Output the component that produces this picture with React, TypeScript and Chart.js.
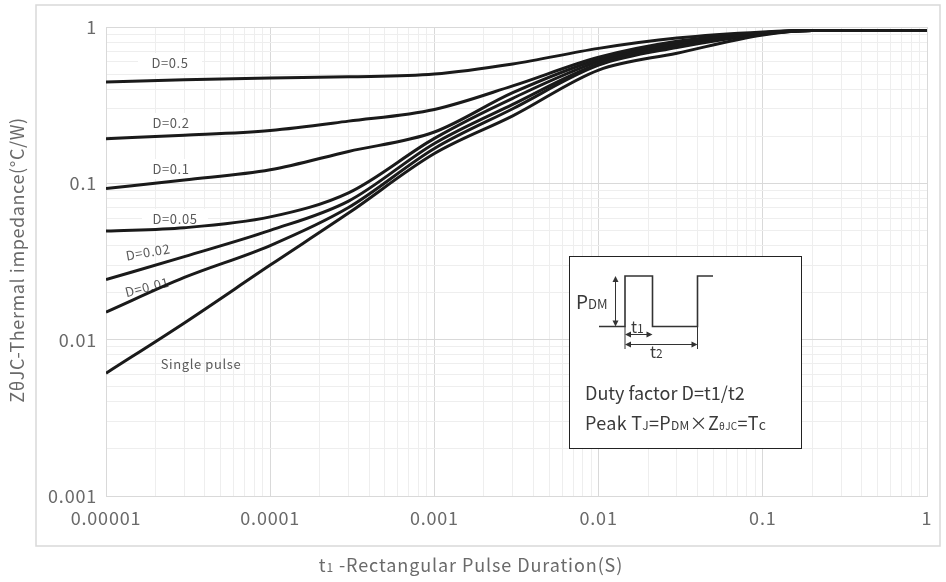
import React, { useEffect, useRef } from "react";
import { Chart, registerables } from "chart.js";

Chart.register(...registerables);

// ---- data ----
const pulseDuration = [1e-5, 3e-5, 1e-4, 3e-4, 1e-3, 3e-3, 1e-2, 3e-2, 0.1, 0.2, 1];
const zD05 = [0.445, 0.46, 0.472, 0.48, 0.5, 0.58, 0.73, 0.85, 0.93, 0.95, 0.95];
const zD02 = [0.193, 0.203, 0.218, 0.25, 0.297, 0.42, 0.64, 0.81, 0.92, 0.95, 0.95];
const zD01 = [0.0925, 0.105, 0.122, 0.16, 0.213, 0.38, 0.62, 0.79, 0.92, 0.95, 0.95];
const zD005 = [0.0495, 0.052, 0.061, 0.087, 0.194, 0.35, 0.6, 0.77, 0.91, 0.95, 0.95];
const zD002 = [0.0242, 0.034, 0.05, 0.077, 0.18, 0.32, 0.58, 0.75, 0.91, 0.95, 0.95];
const zD001 = [0.015, 0.025, 0.04, 0.07, 0.167, 0.3, 0.57, 0.74, 0.9, 0.95, 0.95];
const zSingle = [0.0061, 0.0128, 0.03, 0.0645, 0.155, 0.27, 0.53, 0.68, 0.89, 0.95, 0.95];

const seriesNames = ["D=0.5", "D=0.2", "D=0.1", "D=0.05", "D=0.02", "D=0.01", "Single pulse"];
const seriesValues = [zD05, zD02, zD01, zD005, zD002, zD001, zSingle];

const xMajorTicks = [1e-5, 1e-4, 1e-3, 1e-2, 1e-1, 1];
const xTickLabels = ["0.00001", "0.0001", "0.001", "0.01", "0.1", "1"];
const yMajorTicks = [1e-3, 1e-2, 1e-1, 1];
const yTickLabels = ["0.001", "0.01", "0.1", "1"];

const FONT = "'Noto Sans CJK SC', 'Noto Sans', sans-serif";
const GRAY = "#6a6a6a";

function gridValues(majors: number[]) {
  const out: number[] = [];
  for (let i = 0; i < majors.length; i++) {
    out.push(majors[i]);
    if (i < majors.length - 1) {
      for (let k = 2; k <= 9; k++) out.push(+(majors[i] * k).toPrecision(3));
    }
  }
  return out;
}

function isMajor(v: number, majors: number[]) {
  return majors.some((m) => Math.abs(v - m) / m < 1e-6);
}

function drawRuns(ctx: CanvasRenderingContext2D, x: number, y: number, runs: [string, number][], color: string, align: "left" | "center" = "left", spacing = 0) {
  ctx.save();
  (ctx as any).letterSpacing = spacing + "px";
  ctx.fillStyle = color;
  ctx.textBaseline = "alphabetic";
  ctx.textAlign = "left";
  let total = 0;
  for (const [t, s] of runs) {
    ctx.font = `${s}px ${FONT}`;
    total += ctx.measureText(t).width;
  }
  let cx = align === "center" ? x - total / 2 : x;
  for (const [t, s] of runs) {
    ctx.font = `${s}px ${FONT}`;
    ctx.fillText(t, cx, y);
    cx += ctx.measureText(t).width;
  }
  ctx.restore();
}

function arrowHead(ctx: CanvasRenderingContext2D, x: number, y: number, dir: "up" | "down" | "left" | "right") {
  const L = 6, W = 3;
  ctx.beginPath();
  if (dir === "up") { ctx.moveTo(x, y); ctx.lineTo(x - W, y + L); ctx.lineTo(x + W, y + L); }
  if (dir === "down") { ctx.moveTo(x, y); ctx.lineTo(x - W, y - L); ctx.lineTo(x + W, y - L); }
  if (dir === "left") { ctx.moveTo(x, y); ctx.lineTo(x + L, y - W); ctx.lineTo(x + L, y + W); }
  if (dir === "right") { ctx.moveTo(x, y); ctx.lineTo(x - L, y - W); ctx.lineTo(x - L, y + W); }
  ctx.closePath();
  ctx.fill();
}

const decorPlugin = {
  id: "decor",
  beforeDraw(chart: any) {
    const ctx = chart.ctx as CanvasRenderingContext2D;
    ctx.save();
    ctx.strokeStyle = "#d9d9d9";
    ctx.lineWidth = 1.5;
    ctx.strokeRect(36, 5, 904, 541);
    ctx.restore();
    (ctx as any).letterSpacing = "0.8px";
  },
  beforeDatasetsDraw(chart: any) {
    const ctx = chart.ctx as CanvasRenderingContext2D;
    const labels: { t: string; x: number; y: number; rot: number; w: number }[] = [
      { t: seriesNames[0], x: 170, y: 63, rot: 0, w: 64 },
      { t: seriesNames[1], x: 171, y: 123, rot: 0, w: 64 },
      { t: seriesNames[2], x: 171, y: 169, rot: 0, w: 64 },
      { t: seriesNames[3], x: 175, y: 219, rot: 0, w: 66 },
      { t: seriesNames[4], x: 148, y: 252, rot: -0.17, w: 0 },
      { t: seriesNames[5], x: 147, y: 287, rot: -0.25, w: 0 },
      { t: seriesNames[6], x: 201, y: 364, rot: 0, w: 0 },
    ];
    for (const l of labels) {
      ctx.save();
      ctx.translate(l.x, l.y);
      ctx.rotate(l.rot);
      ctx.font = `13px ${FONT}`;
      (ctx as any).letterSpacing = "0.6px";
      if (l.w > 0) {
        ctx.fillStyle = "#ffffff";
        ctx.fillRect(-l.w / 2, -10, l.w, 20);
      }
      ctx.fillStyle = "#5a5a5a";
      ctx.textAlign = "center";
      ctx.textBaseline = "middle";
      ctx.fillText(l.t, 0, 0);
      ctx.restore();
    }
  },
  afterDatasetsDraw(chart: any) {
    const ctx = chart.ctx as CanvasRenderingContext2D;
    ctx.save();
    ctx.fillStyle = "#ffffff";
    ctx.fillRect(569.5, 256.5, 232, 192);
    ctx.strokeStyle = "#222";
    ctx.lineWidth = 1;
    ctx.strokeRect(569.5, 256.5, 232, 192);

    ctx.strokeStyle = "#333";
    ctx.fillStyle = "#333";
    ctx.lineWidth = 1.6;
    ctx.beginPath();
    ctx.moveTo(599, 326.5);
    ctx.lineTo(625, 326.5);
    ctx.lineTo(625, 276);
    ctx.lineTo(652.5, 276);
    ctx.lineTo(652.5, 326.5);
    ctx.lineTo(697.5, 326.5);
    ctx.lineTo(697.5, 276);
    ctx.lineTo(713, 276);
    ctx.stroke();

    ctx.lineWidth = 1;
    ctx.beginPath();
    ctx.moveTo(615.5, 280);
    ctx.lineTo(615.5, 323);
    ctx.stroke();
    arrowHead(ctx, 615.5, 276, "up");
    arrowHead(ctx, 615.5, 326.5, "down");
    ctx.beginPath();
    ctx.moveTo(625, 326.5);
    ctx.lineTo(625, 349);
    ctx.moveTo(697.5, 326.5);
    ctx.lineTo(697.5, 349);
    ctx.stroke();
    ctx.beginPath();
    ctx.moveTo(628, 334.5);
    ctx.lineTo(650, 334.5);
    ctx.stroke();
    arrowHead(ctx, 625, 334.5, "left");
    arrowHead(ctx, 652.5, 334.5, "right");
    ctx.beginPath();
    ctx.moveTo(628, 344.5);
    ctx.lineTo(695, 344.5);
    ctx.stroke();
    arrowHead(ctx, 625, 344.5, "left");
    arrowHead(ctx, 697.5, 344.5, "right");
    ctx.restore();

    const ink = "#3a3a3a";
    drawRuns(ctx, 576, 309, [["P", 19], ["DM", 13]], ink);
    drawRuns(ctx, 631, 333, [["t", 16], ["1", 12]], ink);
    drawRuns(ctx, 650, 358, [["t", 16], ["2", 12]], ink);
    drawRuns(ctx, 585, 400, [["Duty factor D=t1/t2", 18]], ink, "left", 0);
    drawRuns(ctx, 585, 430, [["Peak T", 18], ["J", 12], ["=P", 18], ["DM", 12], ["\u00d7Z", 18], ["\u03b8JC", 10], ["=T", 18], ["c", 14]], ink, "left", 0.3);

    drawRuns(ctx, 471, 572, [["t", 18], ["1", 12], [" -Rectangular Pulse Duration(S)", 18]], GRAY, "center", 0.9);
    ctx.save();
    ctx.translate(24, 260);
    ctx.rotate(-Math.PI / 2);
    drawRuns(ctx, 0, 0, [["Z\u03b8JC-Thermal impedance(\u00b0C/W)", 18]], GRAY, "center", 0.6);
    ctx.restore();
  },
};

export default function App() {
  const ref = useRef<HTMLCanvasElement | null>(null);
  useEffect(() => {
    if (!ref.current) return;
    const datasets: any[] = [];
    seriesValues.forEach((vals, i) => {
      const data = pulseDuration.map((t, j) => ({ x: t, y: vals[j] }));
      datasets.push({
        label: seriesNames[i],
        data,
        borderColor: "#1a1a1a",
        borderWidth: 3,
        pointRadius: 0,
        cubicInterpolationMode: "monotone",
        fill: false,
      });
      datasets.push({
        label: seriesNames[i] + " inner",
        data,
        borderColor: "rgba(255,255,255,0.9)",
        borderWidth: 1,
        borderDash: [4, 2],
        pointRadius: 0,
        cubicInterpolationMode: "monotone",
        fill: false,
      });
    });
    const xGrid = gridValues(xMajorTicks);
    const yGrid = gridValues(yMajorTicks);
    const chart = new Chart(ref.current, {
      type: "line",
      data: { datasets },
      plugins: [decorPlugin],
      options: {
        animation: false,
        responsive: false,
        devicePixelRatio: 1,
        layout: { padding: { top: 27, right: 19, left: 0, bottom: 0 } },
        plugins: { legend: { display: false }, tooltip: { enabled: false } },
        scales: {
          x: {
            type: "logarithmic",
            min: 1e-5,
            max: 1,
            afterBuildTicks: (s: any) => { s.ticks = xGrid.map((v) => ({ value: v })); },
            afterFit: (s: any) => { s.height = 86; },
            ticks: {
              autoSkip: false,
              maxRotation: 0,
              minRotation: 0,
              padding: 11,
              color: GRAY,
              font: { size: 18, family: FONT },
              callback: (v: any) => {
                const idx = xMajorTicks.findIndex((m) => Math.abs(v - m) / m < 1e-6);
                return idx >= 0 ? xTickLabels[idx] : "";
              },
            },
            grid: {
              drawTicks: false,
              lineWidth: 1,
              color: (c: any) => (c.tick && isMajor(c.tick.value, xMajorTicks) ? "#d9d9d9" : "#eeeeee"),
            },
            border: { color: "#d9d9d9" },
          },
          y: {
            type: "logarithmic",
            min: 1e-3,
            max: 1,
            afterBuildTicks: (s: any) => { s.ticks = yGrid.map((v) => ({ value: v })); },
            afterFit: (s: any) => { s.width = 106; },
            ticks: {
              autoSkip: false,
              padding: 9,
              color: GRAY,
              font: { size: 18, family: FONT },
              callback: (v: any) => {
                const idx = yMajorTicks.findIndex((m) => Math.abs(v - m) / m < 1e-6);
                return idx >= 0 ? yTickLabels[idx] : "";
              },
            },
            grid: {
              drawTicks: false,
              lineWidth: 1,
              color: (c: any) => (c.tick && isMajor(c.tick.value, yMajorTicks) ? "#d9d9d9" : "#eeeeee"),
            },
            border: { color: "#d9d9d9" },
          },
        },
      } as any,
    });
    return () => chart.destroy();
  }, []);
  return (
    <div style={{ position: "fixed", left: 0, top: 0, width: 946, height: 582, background: "#fff" }}>
      <canvas ref={ref} width={946} height={582} style={{ width: 946, height: 582, display: "block" }} />
    </div>
  );
}
